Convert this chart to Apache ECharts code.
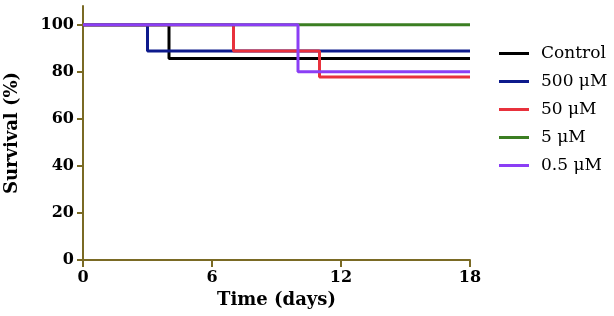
<!DOCTYPE html>
<html>
<head>
<meta charset="utf-8">
<script src="https://cdn.jsdelivr.net/npm/echarts@6/dist/echarts.min.js"></script>
<style>
  html, body { margin: 0; padding: 0; background: #fff; }
  #chart { width: 614px; height: 316px; }
</style>
</head>
<body>
<div id="chart"></div>
<script>
// survival data (time in days, survival in %)
const groupNames = ["Control", "500 μM", "50 μM", "5 μM", "0.5 μM"];
const groupColors = ["#000000", "#0d1a8c", "#e8313c", "#3b7e22", "#8b3ef5"];

const controlTimes = [0, 4, 18];
const controlSurvival = [100, 85.7, 85.7];
const uM500Times = [0, 3, 18];
const uM500Survival = [100, 88.9, 88.9];
const uM50Times = [0, 7, 11, 18];
const uM50Survival = [100, 88.9, 77.8, 77.8];
const uM5Times = [0, 18];
const uM5Survival = [100, 100];
const uM05Times = [0, 10, 18];
const uM05Survival = [100, 80, 80];

const xTicks = [0, 6, 12, 18];
const yTicks = [0, 20, 40, 60, 80, 100];

const allTimes = [controlTimes, uM500Times, uM50Times, uM5Times, uM05Times];
const allSurvival = [controlSurvival, uM500Survival, uM50Survival, uM5Survival, uM05Survival];

const axisColor = "#7a6a24";
const serif = "DejaVu Serif";

var chart = echarts.init(document.getElementById("chart"));

let series = groupNames.map((name, i) => {
  return {
    name: name,
    type: "line",
    step: "end",
    symbol: "none",
    showSymbol: false,
    color: groupColors[i],
    lineStyle: { width: 3, color: groupColors[i] },
    data: allTimes[i].map((t, j) => [t, allSurvival[i][j]])
  };
});

chart.setOption({
  animation: false,
  grid: {
    left: 83,
    right: 144,
    top: 6,
    bottom: 56,
    outerBoundsMode: "none"
  },
  legend: {
    orient: "vertical",
    left: 494,
    top: 40,
    icon: "rect",
    itemWidth: 30,
    itemHeight: 3,
    itemGap: 11,
    textStyle: {
      fontFamily: serif,
      fontSize: 17,
      color: "#000",
      padding: [0, 0, 0, 7]
    },
    data: groupNames
  },
  xAxis: {
    type: "value",
    min: 0,
    max: 18,
    interval: 6,
    name: "Time (days)",
    nameLocation: "middle",
    nameGap: 31,
    nameTextStyle: {
      fontFamily: serif,
      fontWeight: "bold",
      fontSize: 18,
      color: "#000"
    },
    axisLine: { lineStyle: { color: axisColor, width: 2 } },
    axisTick: { show: true, length: 7, lineStyle: { color: axisColor, width: 2 }, customValues: xTicks },
    axisLabel: {
      fontFamily: serif,
      fontWeight: "bold",
      fontSize: 16,
      color: "#000",
      margin: 10,
      customValues: xTicks
    },
    splitLine: { show: false }
  },
  yAxis: {
    type: "value",
    min: 0,
    max: 108,
    name: "Survival (%)",
    nameLocation: "middle",
    nameGap: 62,
    nameTextStyle: {
      fontFamily: serif,
      fontWeight: "bold",
      fontSize: 18,
      color: "#000"
    },
    axisLine: { show: true, lineStyle: { color: axisColor, width: 2 } },
    axisTick: { show: true, length: 6, lineStyle: { color: axisColor, width: 2 }, customValues: yTicks },
    axisLabel: {
      fontFamily: serif,
      fontWeight: "bold",
      fontSize: 16,
      color: "#000",
      margin: 9,
      customValues: yTicks
    },
    splitLine: { show: false }
  },
  series: series
});
</script>
</body>
</html>
